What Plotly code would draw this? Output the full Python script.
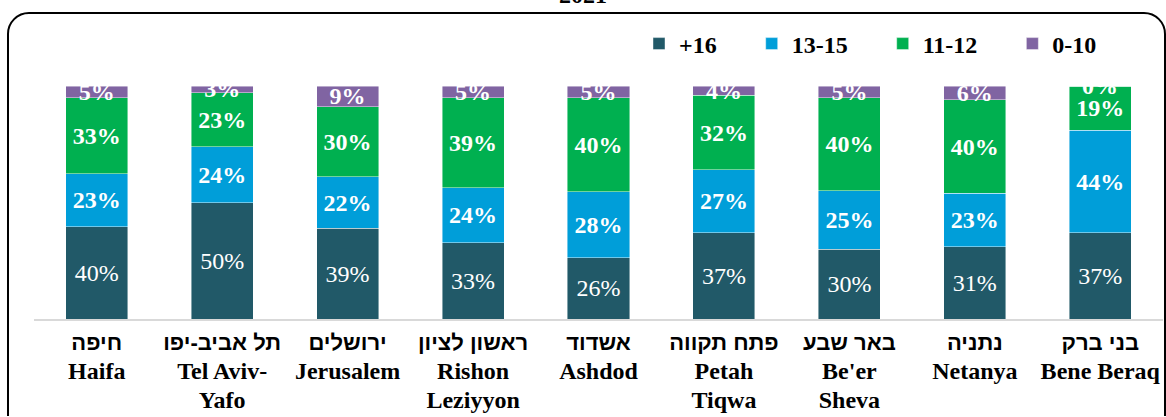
import plotly.graph_objects as go

# ---------------- data ----------------
categories_he = ["חיפה", "תל אביב-יפו", "ירושלים", "ראשון לציון", "אשדוד",
                 "פתח תקווה", "באר שבע", "נתניה", "בני ברק"]
categories_en = ["Haifa", "Tel Aviv-<br>Yafo", "Jerusalem", "Rishon<br>Leziyyon", "Ashdod",
                 "Petah<br>Tiqwa", "Be'er<br>Sheva", "Netanya", "Bene Beraq"]
series_names = ["+16", "13-15", "11-12", "0-10"]
v_16plus = [40, 50, 39, 33, 26, 37, 30, 31, 37]
v_13_15 = [23, 24, 22, 24, 28, 27, 25, 23, 44]
v_11_12 = [33, 23, 30, 39, 40, 32, 40, 40, 19]
v_0_10 = [5, 3, 9, 5, 5, 4, 5, 6, 0]
title_text = "2021"

colors = ["#215968", "#009ED9", "#00B050", "#8064A2"]
bold = [False, True, True, True]
series_values = [v_16plus, v_13_15, v_11_12, v_0_10]

FONT = "Liberation Serif, Times New Roman, serif"
HEB_FONT = "Liberation Sans, Arial, DejaVu Sans, sans-serif"

W, H = 1166, 417
ML, MR, MT, MB = 34, 3, 86, 98
PW, PH = W - ML - MR, H - MT - MB


def px_x(x):
    return (x - ML) / PW


def px_y(y):
    return (H - MB - y) / PH


def tick_label(he, en):
    en_lines = "<br>".join(f"<span style='font-size:24px'>{ln}</span>" for ln in en.split("<br>"))
    return (f"<b><span style='font-family:{HEB_FONT};font-size:22px'>{he}</span><br>"
            f"{en_lines}</b>")


tick_labels = [tick_label(he, en) for he, en in zip(categories_he, categories_en)]
xcats = list(range(len(categories_en)))

fig = go.Figure()
NBSP = "\u00a0" * 5
for name, vals, col, b in zip(series_names, series_values, colors, bold):
    fig.add_trace(go.Bar(
        x=xcats, y=vals, name=name + NBSP,
        marker=dict(color=col, line=dict(color="rgba(255,255,255,0.55)", width=0.8)),
        text=[f"{v}%" for v in vals],
        textposition="inside", insidetextanchor="middle",
        textangle=0, constraintext="none",
        textfont=dict(family=FONT, size=24, color="white",
                      weight="bold" if b else "normal"),
        hoverinfo="skip",
    ))

# labels for zero-height segments (not drawable as inside bar text)
annotations = []
for i, v in enumerate(v_0_10):
    if v == 0:
        annotations.append(dict(
            x=xcats[i], y=100, xref="x", yref="y", text=f"<b>{v}%</b>",
            showarrow=False, yanchor="middle",
            font=dict(family=FONT, size=24, color="white")))

annotations.append(dict(
    x=px_x(583), y=px_y(-5), xref="paper", yref="paper", text=f"<b>{title_text}</b>",
    showarrow=False, xanchor="center", yanchor="middle",
    font=dict(family=FONT, size=24, color="black")))

# rounded frame (open at the bottom, which lies below the visible page)
x1, x2, y1, yb, r = 8, 1165, 13, 416, 21
k = 0.5523 * r
pts = [
    ("M", [(x1, yb)]),
    ("L", [(x1, y1 + r)]),
    ("C", [(x1, y1 + r - k), (x1 + r - k, y1), (x1 + r, y1)]),
    ("L", [(x2 - r, y1)]),
    ("C", [(x2 - r + k, y1), (x2, y1 + r - k), (x2, y1 + r)]),
    ("L", [(x2, yb)]),
]
path = ""
for cmd, pp in pts:
    path += cmd + " ".join(f"{px_x(a):.5f},{px_y(b):.5f}" for a, b in pp) + " "

fig.update_layout(
    width=W, height=H,
    margin=dict(l=ML, r=MR, t=MT, b=MB, pad=0, autoexpand=False),
    barmode="stack", barnorm="percent", bargap=0.505,
    paper_bgcolor="white", plot_bgcolor="white",
    font=dict(family=FONT, size=24, color="black"),
    showlegend=True,
    legend=dict(orientation="h", x=px_x(639), xanchor="left",
                y=px_y(44), yanchor="middle", traceorder="normal",
                font=dict(family=FONT, size=24, color="black", weight="bold"),
                bgcolor="rgba(0,0,0,0)", itemclick=False),
    xaxis=dict(tickmode="array", tickvals=xcats, ticktext=tick_labels,
               range=[-0.5, len(xcats) - 0.5], automargin=False,
               showline=True, linecolor="#D9D9D9", linewidth=2,
               ticks="", showgrid=False, zeroline=False, ticklabelstandoff=3,
               tickfont=dict(family=FONT, size=22, color="black")),
    yaxis=dict(range=[0, 100], visible=False, showgrid=False, zeroline=False,
               automargin=False),
    annotations=annotations,
    shapes=[dict(type="path", xref="paper", yref="paper", path=path,
                 line=dict(color="black", width=2), fillcolor="rgba(0,0,0,0)",
                 layer="above")],
)

fig.write_html("out.html", config={"displayModeBar": False},
               post_script="document.body.style.margin='0';document.body.style.padding='0';"
                           "document.body.style.overflow='hidden';")
